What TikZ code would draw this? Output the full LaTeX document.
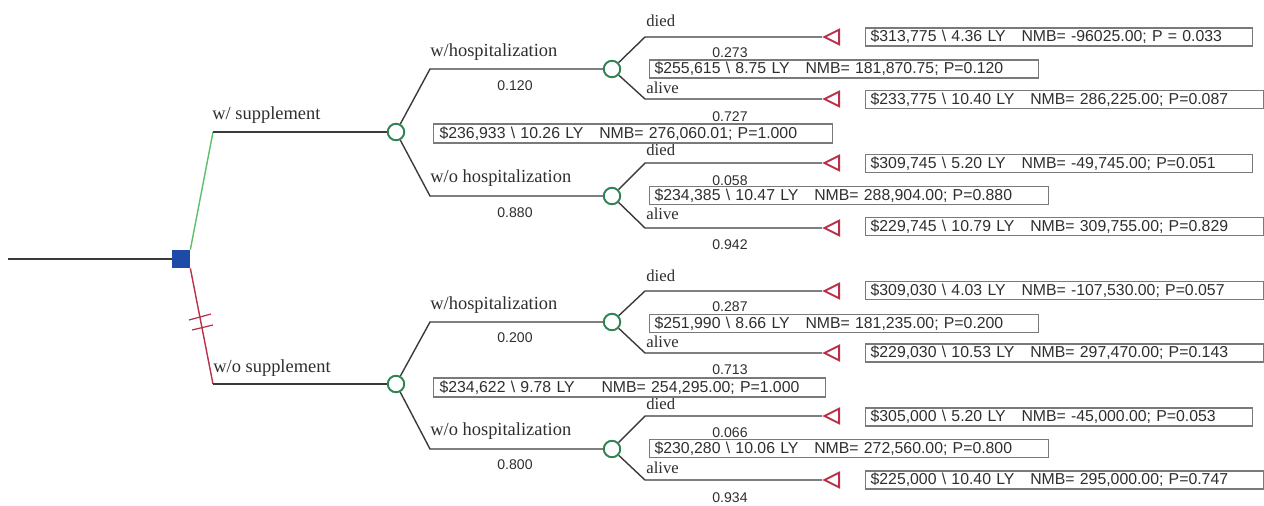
\documentclass[tikz,border=0pt]{standalone}
\usepackage{fontspec}
\setmainfont{Liberation Serif}
\setsansfont{Liberation Sans}
\usetikzlibrary{shapes.geometric}

\definecolor{linea}{HTML}{3A3A3A}
\definecolor{verdeclaro}{HTML}{5CBF6A}
\definecolor{verdeosc}{HTML}{2E8452}
\definecolor{rojo}{HTML}{B8304A}
\definecolor{azul}{HTML}{1E4BA8}
\definecolor{borde}{HTML}{7A7A7A}
\definecolor{texto}{HTML}{2E2E2E}

\tikzset{
  decision/.style={fill=azul, minimum size=0.36cm, inner sep=0},
  chance/.style={draw=verdeosc, circle, fill=white, line width=1.1pt, minimum size=0.33cm, inner sep=0},
  terminal/.style={draw=rojo, isosceles triangle, shape border rotate=180, isosceles triangle stretches,
    minimum width=0.29cm, minimum height=0.29cm, inner sep=0, line width=1.1pt, anchor=apex},
  rama/.style={draw=linea, line width=0.8pt},
  etiq/.style={font=\fontsize{10.5}{12}\selectfont, text=texto, inner sep=0, anchor=base west},
  estado/.style={font=\fontsize{9.5}{11}\selectfont, text=texto, inner sep=0, anchor=base west},
  prob/.style={font=\sffamily\fontsize{8}{9}\selectfont, text=texto, inner sep=0},
  caja/.style={draw=borde, line width=0.7pt, font=\sffamily\fontsize{9}{10}\selectfont, text=texto,
    inner xsep=0.1cm, inner ysep=0pt, minimum height=0.36cm, align=left, anchor=west, text width=#1}
}

\begin{document}
\begin{tikzpicture}[x=0.02cm, y=-0.02cm]
  \useasboundingbox (0,0) rectangle (1264,505);

  % Nodos
  \coordinate (inicio) at (8,259);
  \node[decision] (dec) at (181,259) {};
  \coordinate (k1) at (213,132);
  \coordinate (k2) at (213,384);
  \node[chance] (c1) at (396,132) {};
  \node[chance] (c2) at (396,384) {};

  \coordinate (k11) at (430,69);
  \coordinate (k12) at (430,196);
  \coordinate (k21) at (430,322);
  \coordinate (k22) at (430,449);
  \node[chance] (c11) at (612,69) {};
  \node[chance] (c12) at (612,196) {};
  \node[chance] (c21) at (612,322) {};
  \node[chance] (c22) at (612,449) {};

  \coordinate (k111) at (645,37);
  \coordinate (k112) at (645,99);
  \coordinate (k121) at (645,163);
  \coordinate (k122) at (645,228);
  \coordinate (k211) at (645,291);
  \coordinate (k212) at (645,353);
  \coordinate (k221) at (645,416);
  \coordinate (k222) at (645,480);
  \node[terminal] (t111) at (822,37) {};
  \node[terminal] (t112) at (822,99) {};
  \node[terminal] (t121) at (822,163) {};
  \node[terminal] (t122) at (822,228) {};
  \node[terminal] (t211) at (822,291) {};
  \node[terminal] (t212) at (822,353) {};
  \node[terminal] (t221) at (822,416) {};
  \node[terminal] (t222) at (822,480) {};

  % Ramas
  \draw[rama] (inicio) -- (dec.west);
  \draw[draw=verdeclaro, line width=0.8pt] (dec.north east) -- (k1);
  \draw[rama] (k1) -- (c1);
  \draw[draw=rojo, line width=0.8pt] (dec.south east) -- (k2);
  \draw[rama] (k2) -- (c2);
  \draw[draw=rojo, line width=0.7pt] (189,320) -- (211,314);
  \draw[draw=rojo, line width=0.7pt] (192,330) -- (213,325);

  \draw[rama] (c1) -- (k11) -- (c11);
  \draw[rama] (c1) -- (k12) -- (c12);
  \draw[rama] (c2) -- (k21) -- (c21);
  \draw[rama] (c2) -- (k22) -- (c22);

  \draw[rama] (c11) -- (k111) -- (t111);
  \draw[rama] (c11) -- (k112) -- (t112);
  \draw[rama] (c12) -- (k121) -- (t121);
  \draw[rama] (c12) -- (k122) -- (t122);
  \draw[rama] (c21) -- (k211) -- (t211);
  \draw[rama] (c21) -- (k212) -- (t212);
  \draw[rama] (c22) -- (k221) -- (t221);
  \draw[rama] (c22) -- (k222) -- (t222);

  % Etiquetas
  \node[etiq] (l1) at (212,119) {w/ supplement};
  \node[etiq] (l2) at (213,372) {w/o supplement};
  \node[etiq] (l11) at (430,56) {w/hospitalization};
  \node[etiq] (l12) at (430,182) {w/o hospitalization};
  \node[etiq] (l21) at (430,309) {w/hospitalization};
  \node[etiq] (l22) at (430,435) {w/o hospitalization};

  \node[estado] (e111) at (646,26) {died};
  \node[estado] (e112) at (646,93) {alive};
  \node[estado] (e121) at (646,155) {died};
  \node[estado] (e122) at (646,219) {alive};
  \node[estado] (e211) at (646,281) {died};
  \node[estado] (e212) at (646,347) {alive};
  \node[estado] (e221) at (646,409) {died};
  \node[estado] (e222) at (646,473) {alive};

  \node[prob] (p11) at (515,85.5) {0.120};
  \node[prob] (p12) at (515,212.5) {0.880};
  \node[prob] (p21) at (515,338) {0.200};
  \node[prob] (p22) at (515,465) {0.800};
  \node[prob] (p111) at (730,53) {0.273};
  \node[prob] (p112) at (730,117) {0.727};
  \node[prob] (p121) at (730,181) {0.058};
  \node[prob] (p122) at (730,244.5) {0.942};
  \node[prob] (p211) at (730,307) {0.287};
  \node[prob] (p212) at (730,370) {0.713};
  \node[prob] (p221) at (730,433) {0.066};
  \node[prob] (p222) at (730,498) {0.934};

  % Resultados
  \node[caja=7.74cm, minimum height=0.38cm, inner xsep=0.12cm] (r1) at (433,133.5) {\$236,933 \textbackslash{} 10.26 LY\hspace{1em}NMB= 276,060.01; P=1.000};
  \node[caja=7.6cm, minimum height=0.38cm, inner xsep=0.12cm] (r2) at (433,387.5) {\$234,622 \textbackslash{} 9.78 LY\hspace{1.7em}NMB= 254,295.00; P=1.000};

  \node[caja=7.58cm] (r11) at (649,69) {\$255,615 \textbackslash{} 8.75 LY\hspace{1em}NMB= 181,870.75; P=0.120};
  \node[caja=7.78cm] (r12) at (649,195.5) {\$234,385 \textbackslash{} 10.47 LY\hspace{1em}NMB= 288,904.00; P=0.880};
  \node[caja=7.58cm] (r21) at (649,323.5) {\$251,990 \textbackslash{} 8.66 LY\hspace{1em}NMB= 181,235.00; P=0.200};
  \node[caja=7.78cm] (r22) at (649,448.5) {\$230,280 \textbackslash{} 10.06 LY\hspace{1em}NMB= 272,560.00; P=0.800};

  \node[caja=7.54cm] (r111) at (865,37) {\$313,775 \textbackslash{} 4.36 LY\hspace{1em}NMB= -96025.00; P = 0.033};
  \node[caja=7.76cm] (r112) at (865,99.5) {\$233,775 \textbackslash{} 10.40 LY\hspace{1em}NMB= 286,225.00; P=0.087};
  \node[caja=7.54cm] (r121) at (865,163.5) {\$309,745 \textbackslash{} 5.20 LY\hspace{1em}NMB= -49,745.00; P=0.051};
  \node[caja=7.76cm] (r122) at (865,226.5) {\$229,745 \textbackslash{} 10.79 LY\hspace{1em}NMB= 309,755.00; P=0.829};
  \node[caja=7.76cm] (r211) at (865,290.5) {\$309,030 \textbackslash{} 4.03 LY\hspace{1em}NMB= -107,530.00; P=0.057};
  \node[caja=7.76cm] (r212) at (865,353) {\$229,030 \textbackslash{} 10.53 LY\hspace{1em}NMB= 297,470.00; P=0.143};
  \node[caja=7.54cm] (r221) at (865,417) {\$305,000 \textbackslash{} 5.20 LY\hspace{1em}NMB= -45,000.00; P=0.053};
  \node[caja=7.76cm] (r222) at (865,480) {\$225,000 \textbackslash{} 10.40 LY\hspace{1em}NMB= 295,000.00; P=0.747};
\end{tikzpicture}
\end{document}
